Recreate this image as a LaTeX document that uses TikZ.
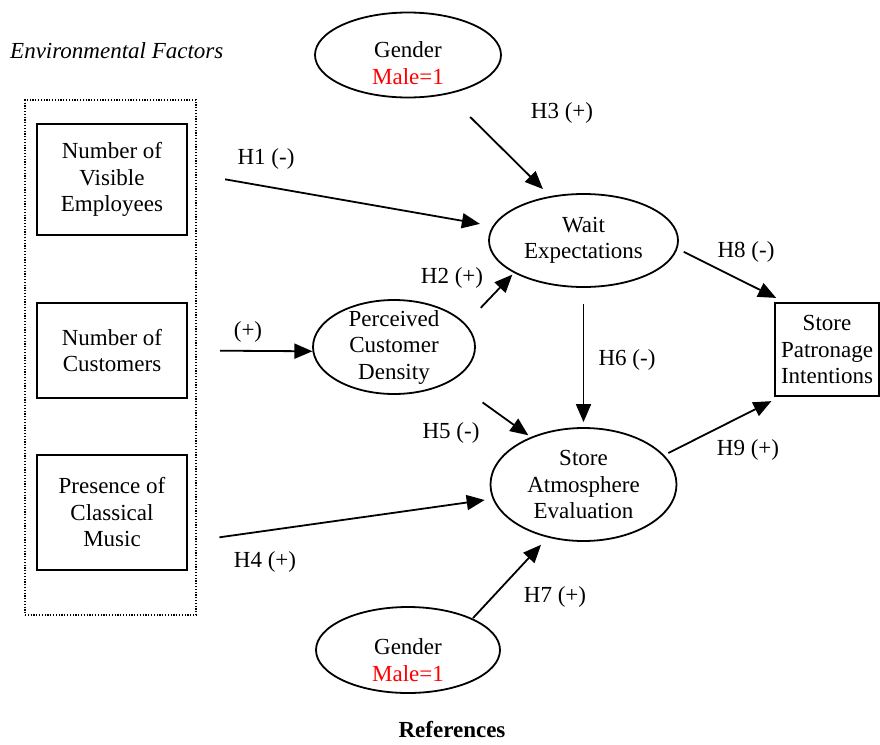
\documentclass[tikz,border=0pt]{standalone}
\usepackage{fontspec}
\setmainfont{Liberation Serif}
\usetikzlibrary{shapes.geometric,arrows.meta}
\begin{document}
\begin{tikzpicture}[x=1pt,y=-1pt,
  every node/.style={font=\fontsize{23}{26.5}\selectfont},
  ell/.style={draw, ellipse, line width=1.8pt, inner sep=0pt},
  boxn/.style={draw, rectangle, line width=2.2pt, align=center, inner sep=2pt},
  dotbox/.style={draw, rectangle, line width=1.4pt, dash pattern=on 1.2pt off 1.6pt, inner sep=0pt},
  lbl/.style={inner sep=0pt},
  inlbl/.style={align=center, inner sep=0pt},
  arr/.style={-{Triangle[length=18pt,width=15pt]}, line width=1.8pt},
]
\useasboundingbox (0,0) rectangle (880,744);

% left group
\node[lbl, anchor=west, font=\fontsize{23}{26.5}\selectfont\itshape] (envlbl) at (10,51) {Environmental Factors};
\node[dotbox, minimum width=171pt, minimum height=515pt] (env) at (110.5,357.5) {};
\node[boxn, minimum width=150pt, minimum height=111pt] (box1) at (112,179.5) {Number of\\Visible\\Employees};
\node[boxn, minimum width=150pt, minimum height=95pt] (box2) at (112,350.5) {Number of\\Customers};
\node[boxn, minimum width=150pt, minimum height=115pt] (box3) at (112,512.5) {Presence of\\Classical\\Music};

% outcome box
\node[boxn, minimum width=104pt, minimum height=93pt] (spi) at (827,349.5) {Store\\Patronage\\Intentions};

% ellipses
\node[ell, minimum width=186pt, minimum height=85pt,
  label={[inlbl,yshift=-8pt]center:Gender\\\textcolor{red}{Male=1}}] (gtop) at (408,55) {};
\node[ell, minimum width=189pt, minimum height=93pt,
  label={[inlbl]center:Wait\\Expectations}] (wait) at (583.5,240.5) {};
\node[ell, minimum width=162pt, minimum height=94pt,
  label={[inlbl]center:Perceived\\Customer\\Density}] (perc) at (394,347) {};
\node[ell, minimum width=186pt, minimum height=113pt,
  label={[inlbl]center:Store\\Atmosphere\\Evaluation}] (atm) at (583.5,484.5) {};
\node[ell, minimum width=184pt, minimum height=86pt,
  label={[inlbl,yshift=-10pt]center:Gender\\\textcolor{red}{Male=1}}] (gbot) at (408,650) {};

% connectors
\draw[arr, shorten <=37.6pt, shorten >=12.9pt] (box1.5) -- (wait.171);
\draw[arr, shorten <=32pt, shorten >=10pt] (gtop.-45) -- (wait.127);
\draw[arr, shorten <=22pt, shorten >=2.3pt] (perc.18) -- (wait.205);
\draw[arr, shorten <=32pt] (box2.east) -- (perc.183);
\draw[arr, shorten <=37.3pt, shorten >=3pt] (perc.-30) -- (atm.138);
\draw[arr, shorten <=16pt, shorten >=5pt] (wait.south) -- (atm.north);
\draw[arr, shorten <=7pt, shorten >=8.9pt] (wait.-5) -- (spi.132);
\draw[arr, shorten <=4.6pt, shorten >=8.9pt] (atm.20) -- (spi.225);
\draw[arr, shorten <=31.6pt, shorten >=8pt] (box3.-21) -- (atm.189);
\draw[arr, shorten <=0.6pt, shorten >=9.8pt] (gbot.26) -- (atm.236);

% connector labels
\node[lbl] (lh1) at (266,159) {H1 (-)};
\node[lbl] (lh3) at (562,113) {H3 (+)};
\node[lbl] (lh2) at (452,278) {H2 (+)};
\node[lbl] (lplus) at (248,332) {(+)};
\node[lbl] (lh5) at (451,433) {H5 (-)};
\node[lbl] (lh6) at (627,360) {H6 (-)};
\node[lbl] (lh8) at (746,252) {H8 (-)};
\node[lbl] (lh9) at (748,450) {H9 (+)};
\node[lbl] (lh4) at (265,562) {H4 (+)};
\node[lbl] (lh7) at (555,597) {H7 (+)};

\node[lbl, font=\fontsize{23}{26.5}\selectfont\bfseries] (refs) at (452,730) {References};
\end{tikzpicture}
\end{document}
